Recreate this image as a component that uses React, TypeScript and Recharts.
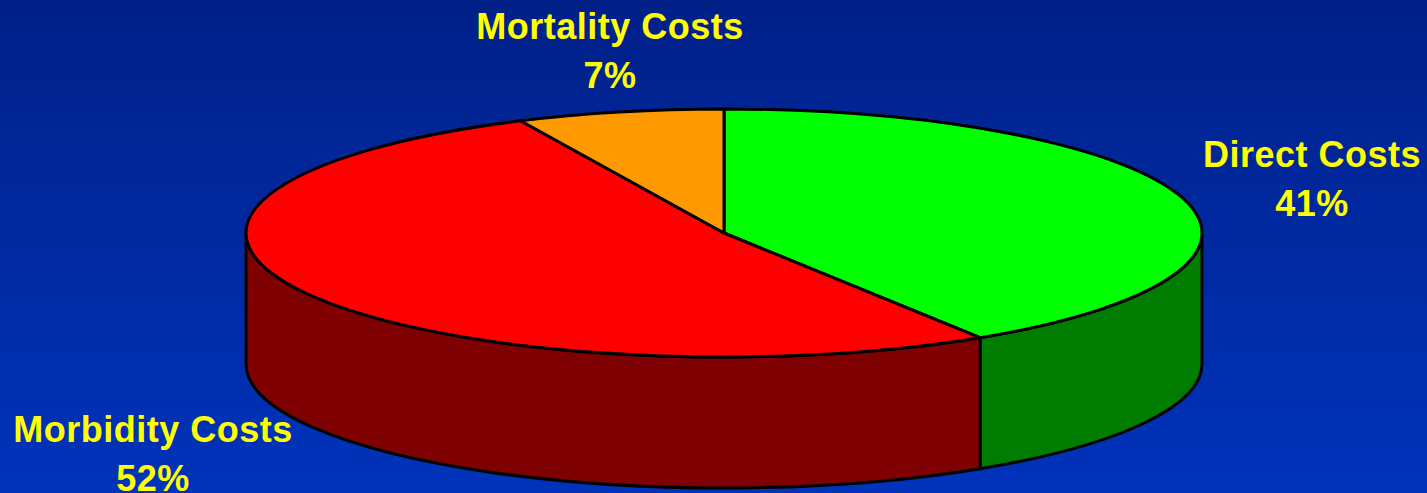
import { PieChart, Pie } from "recharts";

const categories = ["Direct Costs", "Morbidity Costs", "Mortality Costs"];
const shares = [41, 52, 7];
const data = categories.map((name, i) => ({ name, value: shares[i] }));

const topColors = ["#00ff00", "#ff0000", "#ff9900"];
const sideColors = ["#007c00", "#7f0000", "#7f4c00"];
// label centre x and first-line baseline, per slice
const labelSpots = [
  { x: 1312, y: 167 },
  { x: 153, y: 442 },
  { x: 610, y: 39 },
];

const W = 1427;
const H = 493;
const CX = 724;
const CY = 233;
const RX = 478;
const RY = 124;
const DEPTH = 131;
const STROKE = 3;

const pt = (cx: number, cy: number, deg: number) => {
  const a = (deg * Math.PI) / 180;
  return [cx + RX * Math.cos(a), cy - RY * Math.sin(a)];
};

// flat ellipse slice, same angles the Pie worked out
function TopSlice(props: any) {
  const { cx, cy, startAngle, endAngle, index } = props;
  const [x0, y0] = pt(cx, cy, startAngle);
  const [x1, y1] = pt(cx, cy, endAngle);
  const large = Math.abs(endAngle - startAngle) > 180 ? 1 : 0;
  return (
    <path
      d={`M${cx},${cy} L${x0},${y0} A${RX},${RY} 0 ${large} 1 ${x1},${y1} Z`}
      fill={topColors[index]}
      stroke="#000"
      strokeWidth={STROKE}
      strokeLinejoin="round"
    />
  );
}

// wall below the slice, only the part of the rim facing the viewer
function SideSlice(props: any) {
  const { cx, cy, startAngle, endAngle, index } = props;
  const a0 = Math.min(startAngle, 0);
  const a1 = Math.max(endAngle, -180);
  if (a0 <= a1) return <g />;
  const [x0, y0] = pt(cx, cy, a0);
  const [x1, y1] = pt(cx, cy, a1);
  return (
    <path
      d={`M${x0},${y0} A${RX},${RY} 0 0 1 ${x1},${y1} L${x1},${y1 + DEPTH} A${RX},${RY} 0 0 0 ${x0},${y0 + DEPTH} Z`}
      fill={sideColors[index]}
      stroke="#000"
      strokeWidth={STROKE}
      strokeLinejoin="round"
    />
  );
}

function SliceLabel(props: any) {
  const { index, name, value } = props;
  const spot = labelSpots[index];
  const textStyle = {
    fontFamily: "'Liberation Sans', Arial, sans-serif",
    fontWeight: 700,
    fontSize: 36,
    letterSpacing: 0.5,
  };
  return (
    <g>
      <text x={spot.x} y={spot.y} textAnchor="middle" fill="#ffff00" style={textStyle}>
        {name}
      </text>
      <text x={spot.x} y={spot.y + 49} textAnchor="middle" fill="#ffff00" style={textStyle}>
        {`${value}%`}
      </text>
    </g>
  );
}

export default function App() {
  return (
    <div
      style={{
        position: "absolute",
        left: 0,
        top: 0,
        width: W,
        height: H,
        overflow: "hidden",
        background: "linear-gradient(180deg, #002088 0%, #0033bb 100%)",
      }}
    >
      <PieChart width={W} height={H} margin={{ top: 0, right: 0, bottom: 0, left: 0 }}>
        <Pie
          data={data}
          dataKey="value"
          nameKey="name"
          cx={CX}
          cy={CY}
          outerRadius={RX}
          startAngle={90}
          endAngle={-270}
          paddingAngle={0}
          shape={SideSlice}
          isAnimationActive={false}
          label={false}
          labelLine={false}
        />
        <Pie
          data={data}
          dataKey="value"
          nameKey="name"
          cx={CX}
          cy={CY}
          outerRadius={RX}
          startAngle={90}
          endAngle={-270}
          paddingAngle={0}
          shape={TopSlice}
          isAnimationActive={false}
          label={SliceLabel}
          labelLine={false}
        />
      </PieChart>
    </div>
  );
}
